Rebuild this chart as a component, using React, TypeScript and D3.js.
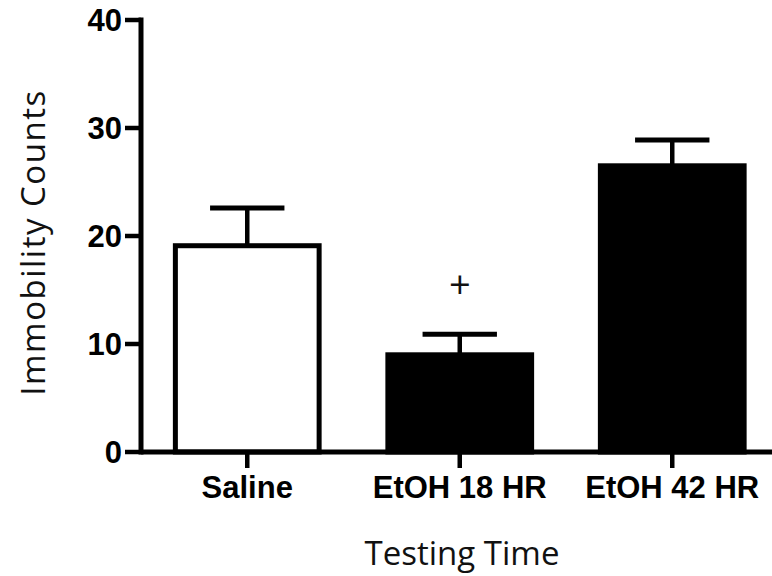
import React from "react";
import * as d3 from "d3";

const categories = ["Saline", "EtOH 18 HR", "EtOH 42 HR"];
const means = [19.1, 9.0, 26.5];
const sems = [3.5, 1.9, 2.4];
const marks = ["", "+", ""];
const yTicks = [0, 10, 20, 30, 40];

const barFills = ["#ffffff", "#000000", "#000000"];

const W = 772;
const H = 576;

export default function App() {
  const y = d3.scaleLinear().domain([0, 40]).range([452, 20]);
  const x = d3
    .scaleBand<string>()
    .domain(categories)
    .range([141, 778.5])
    .paddingInner(0.3)
    .paddingOuter(0.15);
  const bw = x.bandwidth();
  const axisX = 141;
  const baseY = y(0);

  return (
    <svg
      width={W}
      height={H}
      viewBox={`0 0 ${W} ${H}`}
      style={{ position: "absolute", left: 0, top: 0, background: "#fff" }}
    >
      <rect x={0} y={0} width={W} height={H} fill="#fff" />
      {/* bars */}
      {categories.map((c, i) => {
        const x0 = x(c)! + 2.5;
        const w = bw - 5;
        const top = y(means[i]);
        const cx = x(c)! + bw / 2;
        const capTop = y(means[i] + sems[i]);
        return (
          <g key={c}>
            <line x1={cx} x2={cx} y1={top} y2={capTop} stroke="#000" strokeWidth={4.5} />
            <line
              x1={cx - bw / 4}
              x2={cx + bw / 4}
              y1={capTop}
              y2={capTop}
              stroke="#000"
              strokeWidth={5}
            />
            <rect
              x={x0}
              y={top}
              width={w}
              height={baseY - top}
              fill={barFills[i]}
              stroke="#000"
              strokeWidth={5}
            />
            {marks[i] && (
              <text
                x={cx}
                y={capTop - 36}
                textAnchor="middle"
                fontFamily="'Open Sans', sans-serif"
                fontSize={38}
                fill="#111"
              >
                {marks[i]}
              </text>
            )}
          </g>
        );
      })}
      {/* x axis */}
      <line x1={axisX} x2={W} y1={baseY} y2={baseY} stroke="#000" strokeWidth={5} />
      {categories.map((c) => {
        const cx = x(c)! + bw / 2;
        return (
          <g key={"xt" + c}>
            <line x1={cx} x2={cx} y1={baseY} y2={baseY + 16} stroke="#000" strokeWidth={4.5} />
            <text
              x={cx}
              y={498}
              textAnchor="middle"
              fontFamily="'Liberation Sans', Arial, sans-serif"
              fontWeight="bold"
              fontSize={31}
              fill="#000"
            >
              {c}
            </text>
          </g>
        );
      })}
      {/* y axis */}
      <line x1={axisX} x2={axisX} y1={y(40) - 2.5} y2={baseY + 2.5} stroke="#000" strokeWidth={5} />
      {yTicks.map((t) => (
        <g key={"yt" + t}>
          <line x1={axisX - 16} x2={axisX} y1={y(t)} y2={y(t)} stroke="#000" strokeWidth={4.5} />
          <text
            x={122}
            y={y(t)}
            dy="0.36em"
            textAnchor="end"
            fontFamily="'Liberation Sans', Arial, sans-serif"
            fontWeight="bold"
            fontSize={31}
            fill="#000"
          >
            {t}
          </text>
        </g>
      ))}
      {/* titles */}
      <text
        transform="translate(45,242.5) rotate(-90)"
        textAnchor="middle"
        fontFamily="'Open Sans', sans-serif"
        fontSize={33}
        letterSpacing={1.5}
        fill="#111"
      >
        Immobility Counts
      </text>
      <text
        x={462}
        y={565}
        textAnchor="middle"
        fontFamily="'Open Sans', sans-serif"
        fontSize={33}
        fill="#111"
      >
        Testing Time
      </text>
    </svg>
  );
}
